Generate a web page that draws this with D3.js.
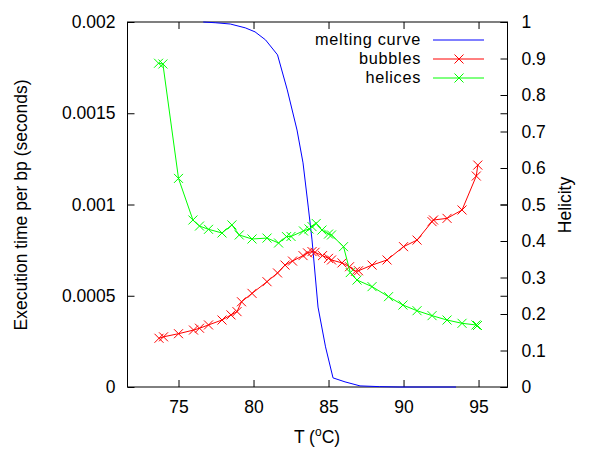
<!DOCTYPE html>
<html><head><meta charset="utf-8">
<script src="https://cdn.jsdelivr.net/npm/d3@7"></script>
<style>body{margin:0;background:#fff}svg{display:block}text{font-family:"Liberation Sans",Arial,sans-serif;}</style>
</head><body><svg id="c" width="600" height="462"></svg>
<script>
const meltT = [76.65,77.45,78.45,79.45,80.1,80.8,81.6,82.25,82.9,83.3,83.65,83.9,84.3,84.8,85.3,86.1,87.1,88.4,89.7,91.7,93.5];
const meltV = [1.0,0.998,0.9945,0.984,0.973,0.951,0.910,0.814,0.704,0.614,0.493,0.403,0.219,0.110,0.025,0.014,0.003,0.001,0,0,0];

const bubT = [73.7,74.0,75.0,76.0,76.4,77.0,77.9,78.5,78.9,79.2,79.9,80.9,81.6,82.1,82.6,83.3,83.6,83.9,84.1,84.6,85.0,85.2,85.9,86.4,86.8,87.0,87.9,88.9,90.0,90.9,91.9,92.0,92.9,93.9,94.85,94.95];
const bubV = [0.000267,0.000275,0.000292,0.000312,0.000322,0.00034,0.000367,0.000395,0.000413,0.000467,0.000513,0.000577,0.000625,0.000668,0.00069,0.00072,0.000735,0.000742,0.000738,0.00072,0.000705,0.000696,0.00068,0.000659,0.000634,0.000637,0.000668,0.000696,0.000769,0.000805,0.000906,0.000915,0.000924,0.00097,0.001156,0.001216];

const helT = [73.67,73.96,75.0,75.96,76.4,77.0,77.9,78.56,79.05,79.9,80.9,81.67,82.2,82.5,83.33,83.7,83.9,84.18,84.56,85.0,85.2,86.0,86.45,86.9,87.9,89.0,89.96,90.9,91.9,92.9,93.9,94.83,94.93];
const helV = [0.001774,0.00177,0.001143,0.000915,0.000882,0.000864,0.000844,0.000888,0.000833,0.000811,0.000816,0.000789,0.000824,0.000825,0.000855,0.000866,0.000879,0.000896,0.00086,0.000838,0.000833,0.000769,0.000627,0.000586,0.00055,0.000495,0.000449,0.000418,0.000391,0.000367,0.000349,0.00034,0.000337];

const xTicks = [75,80,85,90,95];
const yTicks = [0,0.0005,0.001,0.0015,0.002];
const yTickLabels = ["0","0.0005","0.001","0.0015","0.002"];
const y2Ticks = [0,0.1,0.2,0.3,0.4,0.5,0.6,0.7,0.8,0.9,1];
const y2TickLabels = ["0","0.1","0.2","0.3","0.4","0.5","0.6","0.7","0.8","0.9","1"];
const legendNames = ["melting curve","bubbles","helices"];
const colors = ["#0000ff","#ff0000","#00ff00"];

const L=127.5, R=507.5, T=22, B=387;
const FS = 17.5;
const svg = d3.select("#c");
const x = d3.scaleLinear().domain([71.6,96.93]).range([L,R]);
const y = d3.scaleLinear().domain([0,0.002]).range([B,T]);
const y2 = d3.scaleLinear().domain([0,1]).range([B,T]);

function styleAxis(g){
  g.select(".domain").remove();
  g.selectAll(".tick line").attr("stroke","#000").attr("stroke-width",1);
  g.selectAll("text").attr("font-size",FS).attr("fill","#000").attr("font-family","Liberation Sans, Arial, sans-serif");
}
const TK = 7;
svg.append("g").attr("transform",`translate(0,${B})`)
  .call(d3.axisBottom(x).tickValues(xTicks).tickFormat(d3.format("d")).tickSize(-TK).tickPadding(14)).call(styleAxis);
svg.append("g").attr("transform",`translate(0,${T})`)
  .call(d3.axisTop(x).tickValues(xTicks).tickFormat("").tickSize(-TK)).call(styleAxis);
svg.append("g").attr("transform",`translate(${L},0)`)
  .call(d3.axisLeft(y).tickValues(yTicks).tickFormat((d,i)=>yTickLabels[i]).tickSize(-TK).tickPadding(12)).call(styleAxis);
svg.append("g").attr("transform",`translate(${R},0)`)
  .call(d3.axisRight(y).tickValues(yTicks).tickFormat("").tickSize(-TK)).call(styleAxis);
svg.append("g").attr("transform",`translate(${R},0)`)
  .call(d3.axisRight(y2).tickValues(y2Ticks).tickFormat((d,i)=>y2TickLabels[i]).tickSize(-TK).tickPadding(14)).call(styleAxis);

svg.append("rect").attr("x",L).attr("y",T).attr("width",R-L).attr("height",B-T)
  .attr("fill","none").attr("stroke","#000").attr("stroke-width",1);

// axis labels
svg.append("text").attr("transform",`translate(27,205) rotate(-90)`).attr("text-anchor","middle")
  .attr("font-size",FS).text("Execution time per bp (seconds)");
svg.append("text").attr("transform",`translate(571,205) rotate(-90)`).attr("text-anchor","middle")
  .attr("font-size",FS).text("Helicity");
const xl = svg.append("text").attr("x",317).attr("y",443).attr("text-anchor","middle").attr("font-size",FS);
xl.append("tspan").text("T (");
xl.append("tspan").attr("dy",-7).attr("font-size",12).text("o");
xl.append("tspan").attr("dy",7).text("C)");

// series
const line = d3.line();
const cross = "M-4.5,-4.5L4.5,4.5M-4.5,4.5L4.5,-4.5";
svg.append("path").attr("d",line(meltT.map((t,i)=>[x(t),y2(meltV[i])])))
  .attr("fill","none").attr("stroke",colors[0]).attr("stroke-width",1);
function series(ts,vs,col){
  svg.append("path").attr("d",line(ts.map((t,i)=>[x(t),y(vs[i])])))
    .attr("fill","none").attr("stroke",col).attr("stroke-width",1);
  svg.append("g").selectAll("path").data(ts).join("path")
    .attr("transform",(t,i)=>`translate(${x(t)},${y(vs[i])})`)
    .attr("d",cross).attr("stroke",col).attr("stroke-width",1).attr("fill","none");
}
series(bubT,bubV,colors[1]);
series(helT,helV,colors[2]);

// legend
legendNames.forEach((n,i)=>{
  const cy = 40 + i*19;
  svg.append("text").attr("x",421).attr("y",cy+5).attr("text-anchor","end")
    .attr("font-size",16.3).attr("letter-spacing",0.7).text(n);
  svg.append("line").attr("x1",433).attr("x2",484).attr("y1",cy).attr("y2",cy).attr("stroke",colors[i]).attr("stroke-width",1);
  if(i>0) svg.append("path").attr("transform",`translate(459,${cy})`).attr("d",cross).attr("stroke",colors[i]).attr("fill","none");
});
</script></body></html>
